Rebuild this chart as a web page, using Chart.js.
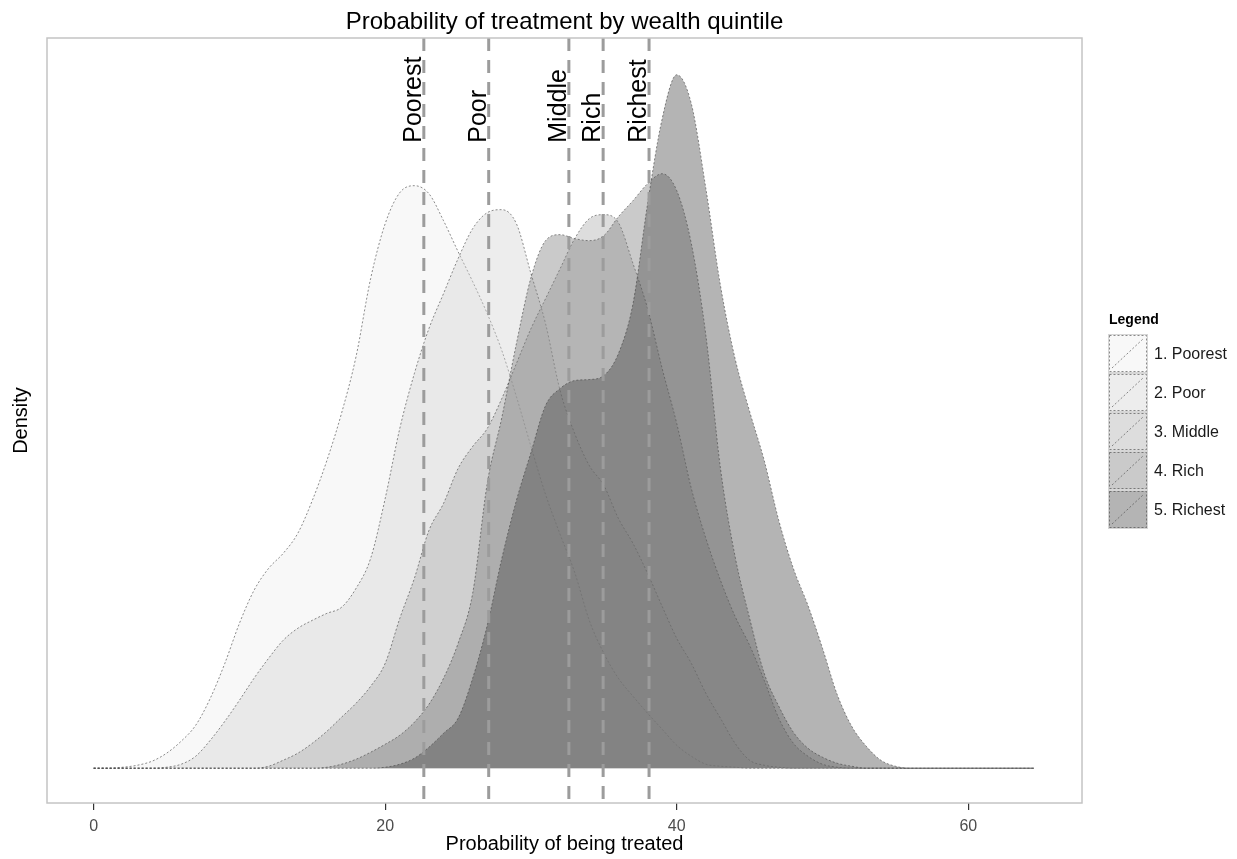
<!DOCTYPE html>
<html>
<head>
<meta charset="utf-8">
<title>Probability of treatment by wealth quintile</title>
<script src="https://cdn.jsdelivr.net/npm/chart.js@4.4.1/dist/chart.umd.min.js"></script>
<style>
    html, body { margin: 0; padding: 0; background: #fff; }
    canvas { display: block; }
</style>
</head>
<body>
<canvas id="myChart" width="1237" height="859"></canvas>
<script>
/*               data (density x 1000)                */

const xValues = [0, 1, 2, 3, 4, 5, 6, 7, 8, 9, 10, 11, 12, 13, 14, 15, 16, 17, 18, 19, 20,
    21, 22, 23, 24, 25, 26, 27, 28, 29, 30, 31, 32, 33, 34, 35, 36, 37, 38, 39, 40,
    41, 42, 43, 44, 45, 46, 47, 48, 49, 50, 51, 52, 53, 54, 55, 56, 57, 58, 59, 60,
    61, 62, 63, 64, 64.5];

const poorest = [0, 0, 0.1, 0.3, 0.7, 1.5, 2.7, 4.3, 7.0, 10.5, 14.5, 17.8, 20.0, 21.5, 23.5, 26.8,
    30.8, 35.5, 41.2, 49.0, 54.5, 57.6, 58.3, 57.5, 54.8, 51.7, 48.7, 45.5, 41.8, 37.2, 32.2,
    27.4, 23.4, 19.6, 14.8, 11.5, 9.0, 7.2, 5.5, 3.9, 2.3, 1.2, 0.4, 0.2, 0.1, 0, 0, 0, 0, 0, 0,
    0, 0, 0, 0, 0, 0, 0, 0, 0, 0, 0, 0, 0, 0, 0];

const poor = [0, 0, 0, 0, 0, 0.1, 0.4, 1.2, 2.8, 4.7, 6.8, 9.0, 11.0, 12.8, 14.0, 14.8, 15.5,
    16.1, 18.0, 21.0, 27.0, 34.0, 39.5, 44.0, 47.5, 51.0, 54.0, 55.6, 55.9, 54.5, 49.5, 44.5,
    37.8, 33.5, 30.3, 28.3, 25.0, 22.5, 19.5, 16.2, 13.0, 10.5, 7.5, 5.0, 2.5, 0.8, 0.3, 0.1,
    0, 0, 0, 0, 0, 0, 0, 0, 0, 0, 0, 0, 0, 0, 0, 0, 0, 0];

const middle = [0, 0, 0, 0, 0, 0, 0, 0, 0, 0, 0, 0, 0.2, 0.8, 1.5, 2.5, 3.7, 5.1, 6.5, 8.2, 10.5,
    15.0, 19.0, 23.8, 26.5, 30.0, 32.2, 34.0, 37.0, 40.5, 44.0, 47.0, 50.0, 53.0, 55.0, 55.4,
    54.6, 50.5, 46.0, 40.0, 34.5, 28.0, 23.0, 18.8, 15.2, 12.3, 8.8, 5.0, 2.5, 1.2, 0.4, 0.1,
    0, 0, 0, 0, 0, 0, 0, 0, 0, 0, 0, 0, 0, 0];

const rich = [0, 0, 0, 0, 0, 0, 0, 0, 0, 0, 0, 0, 0, 0, 0, 0, 0.1, 0.4, 0.9, 1.6, 2.4, 3.3, 4.6,
    6.4, 9.0, 12.5, 17.5, 28.5, 35.1, 42.5, 49.1, 52.8, 53.4, 53.0, 52.8, 53.3, 55.2, 56.8,
    58.5, 59.5, 57.8, 52.5, 43.3, 30.0, 21.2, 15.0, 9.5, 6.2, 3.6, 2.0, 1.1, 0.5, 0.2, 0, 0, 0,
    0, 0, 0, 0, 0, 0, 0, 0, 0, 0];

const richest = [0, 0, 0, 0, 0, 0, 0, 0, 0, 0, 0, 0, 0, 0, 0, 0, 0, 0, 0, 0, 0.1, 0.4, 1.0, 2.1,
    3.5, 5.0, 9.0, 14.3, 21.0, 26.8, 31.6, 36.3, 38.0, 38.8, 38.9, 39.3, 41.5, 46.5, 56.5, 65.0,
    69.4, 66.5, 58.0, 48.3, 41.0, 35.7, 30.8, 24.8, 20.0, 16.3, 12.0, 7.4, 4.2, 2.2, 0.8, 0.2,
    0, 0, 0, 0, 0, 0, 0, 0, 0, 0];

const seriesNames = ['1. Poorest', '2. Poor', '3. Middle', '4. Rich', '5. Richest'];
const medians = [22.65, 27.1, 32.6, 34.95, 38.1];
const medianLabels = ['Poorest', 'Poor', 'Middle', 'Rich', 'Richest'];
const xTicks = [0, 20, 40, 60];
const labelY = 62.6;

/*               styles                */

const fontFamily = '"Liberation Sans", Arial, Helvetica, sans-serif';
const fillColors = ['rgba(238,238,238,0.4)', 'rgba(210,210,210,0.4)', 'rgba(170,170,170,0.4)',
    'rgba(122,122,122,0.4)', 'rgba(67,67,67,0.4)'];
const outlineColor = 'rgba(70,70,70,0.62)';
const yMin = -3.48;
const yMax = 73.08;

Chart.defaults.font.family = fontFamily;

let datasets = [];
[poorest, poor, middle, rich, richest].forEach(function (values, i) {
    datasets.push({
        label: seriesNames[i],
        data: xValues.map((x, j) => ({ x: x, y: values[j] })),
        backgroundColor: fillColors[i],
        borderColor: outlineColor,
        borderWidth: 1,
        borderDash: [2, 2],
        fill: 'origin',
        pointRadius: 0,
        cubicInterpolationMode: 'monotone',
        order: 10 - i
    });
});

medians.forEach(function (m) {
    datasets.push({
        label: 'median',
        data: [{ x: m, y: yMax }, { x: m, y: yMin }],
        borderColor: '#9c9c9c',
        borderWidth: 3,
        borderDash: [13, 9],
        pointRadius: 0,
        fill: false,
        order: 0
    });
});

/*               extra drawing: title, labels, panel, legend                */

let extras = {
    id: 'extras',
    beforeDraw: function (chart) {
        let c = chart.ctx;
        c.save();
        c.fillStyle = '#ffffff';
        c.fillRect(0, 0, chart.width, chart.height);
        c.restore();
    },
    afterDatasetsDraw: function (chart) {
        let c = chart.ctx;
        let area = chart.chartArea;
        let xs = chart.scales.x;
        let ys = chart.scales.y;

        // median labels, rotated
        c.save();
        c.fillStyle = '#000';
        c.font = '25px ' + fontFamily;
        c.textAlign = 'left';
        c.textBaseline = 'alphabetic';
        medians.forEach(function (m, i) {
            c.save();
            c.translate(xs.getPixelForValue(m) - 3, ys.getPixelForValue(labelY));
            c.rotate(-Math.PI / 2);
            c.fillText(medianLabels[i], 0, 0);
            c.restore();
        });
        c.restore();

        // panel border
        c.save();
        c.strokeStyle = '#c4c4c4';
        c.lineWidth = 1.5;
        c.strokeRect(area.left, area.top, area.right - area.left, area.bottom - area.top);
        c.restore();
    },
    afterDraw: function (chart) {
        let c = chart.ctx;
        let area = chart.chartArea;

        // title
        c.save();
        c.fillStyle = '#000';
        c.font = '24px ' + fontFamily;
        c.textAlign = 'center';
        c.textBaseline = 'middle';
        c.fillText('Probability of treatment by wealth quintile', (area.left + area.right) / 2, 22);
        c.restore();

        // legend
        let lx = 1108, ly = 334, kw = 40, kh = 39;
        c.save();
        c.fillStyle = '#000';
        c.font = 'bold 14px ' + fontFamily;
        c.textBaseline = 'middle';
        c.fillText('Legend', 1109, 320);
        seriesNames.forEach(function (name, i) {
            let y = ly + i * kh;
            c.fillStyle = '#ffffff';
            c.fillRect(lx, y, kw, kh);
            c.fillStyle = fillColors[i];
            c.fillRect(lx, y, kw, kh);
            c.strokeStyle = '#d6d6d6';
            c.lineWidth = 1;
            c.setLineDash([]);
            c.strokeRect(lx + 0.5, y + 0.5, kw - 1, kh - 1);
            c.strokeStyle = outlineColor;
            c.setLineDash([2, 2]);
            c.strokeRect(lx + 1.5, y + 1.5, kw - 3, kh - 3);
            c.beginPath();
            c.moveTo(lx + 4, y + kh - 5);
            c.lineTo(lx + kw - 5, y + 5);
            c.stroke();
            c.setLineDash([]);
            c.fillStyle = '#1a1a1a';
            c.font = '16px ' + fontFamily;
            c.fillText(name, lx + kw + 6, y + kh / 2 + 1);
        });
        c.restore();
    }
};

let ctx = document.getElementById('myChart').getContext('2d');
let chart = new Chart(ctx, {
    type: 'line',
    data: { datasets: datasets },
    plugins: [extras],
    options: {
        responsive: false,
        animation: false,
        devicePixelRatio: 1,
        layout: { padding: { left: 0, top: 38, right: 155, bottom: 0 } },
        plugins: {
            legend: { display: false },
            tooltip: { enabled: false }
        },
        scales: {
            x: {
                type: 'linear',
                min: -3.2,
                max: 67.8,
                afterBuildTicks: function (scale) {
                    scale.ticks = xTicks.map(v => ({ value: v }));
                },
                afterFit: function (scale) {
                    scale.height = 56;
                },
                grid: { drawOnChartArea: false, drawTicks: true, tickLength: 7, color: '#333', lineWidth: 1.2 },
                border: { display: false },
                ticks: { color: '#4d4d4d', font: { size: 16 }, padding: 7, maxRotation: 0 },
                title: {
                    display: true,
                    text: 'Probability of being treated',
                    color: '#000',
                    font: { size: 20 },
                    padding: { top: 0, bottom: 3 }
                }
            },
            y: {
                min: yMin,
                max: yMax,
                afterFit: function (scale) {
                    scale.width = 47;
                },
                grid: { display: false },
                border: { display: false },
                ticks: { display: false },
                title: {
                    display: true,
                    text: 'Density',
                    color: '#000',
                    font: { size: 20 },
                    padding: { top: 9, bottom: 0 }
                }
            }
        }
    }
});
</script>
</body>
</html>
